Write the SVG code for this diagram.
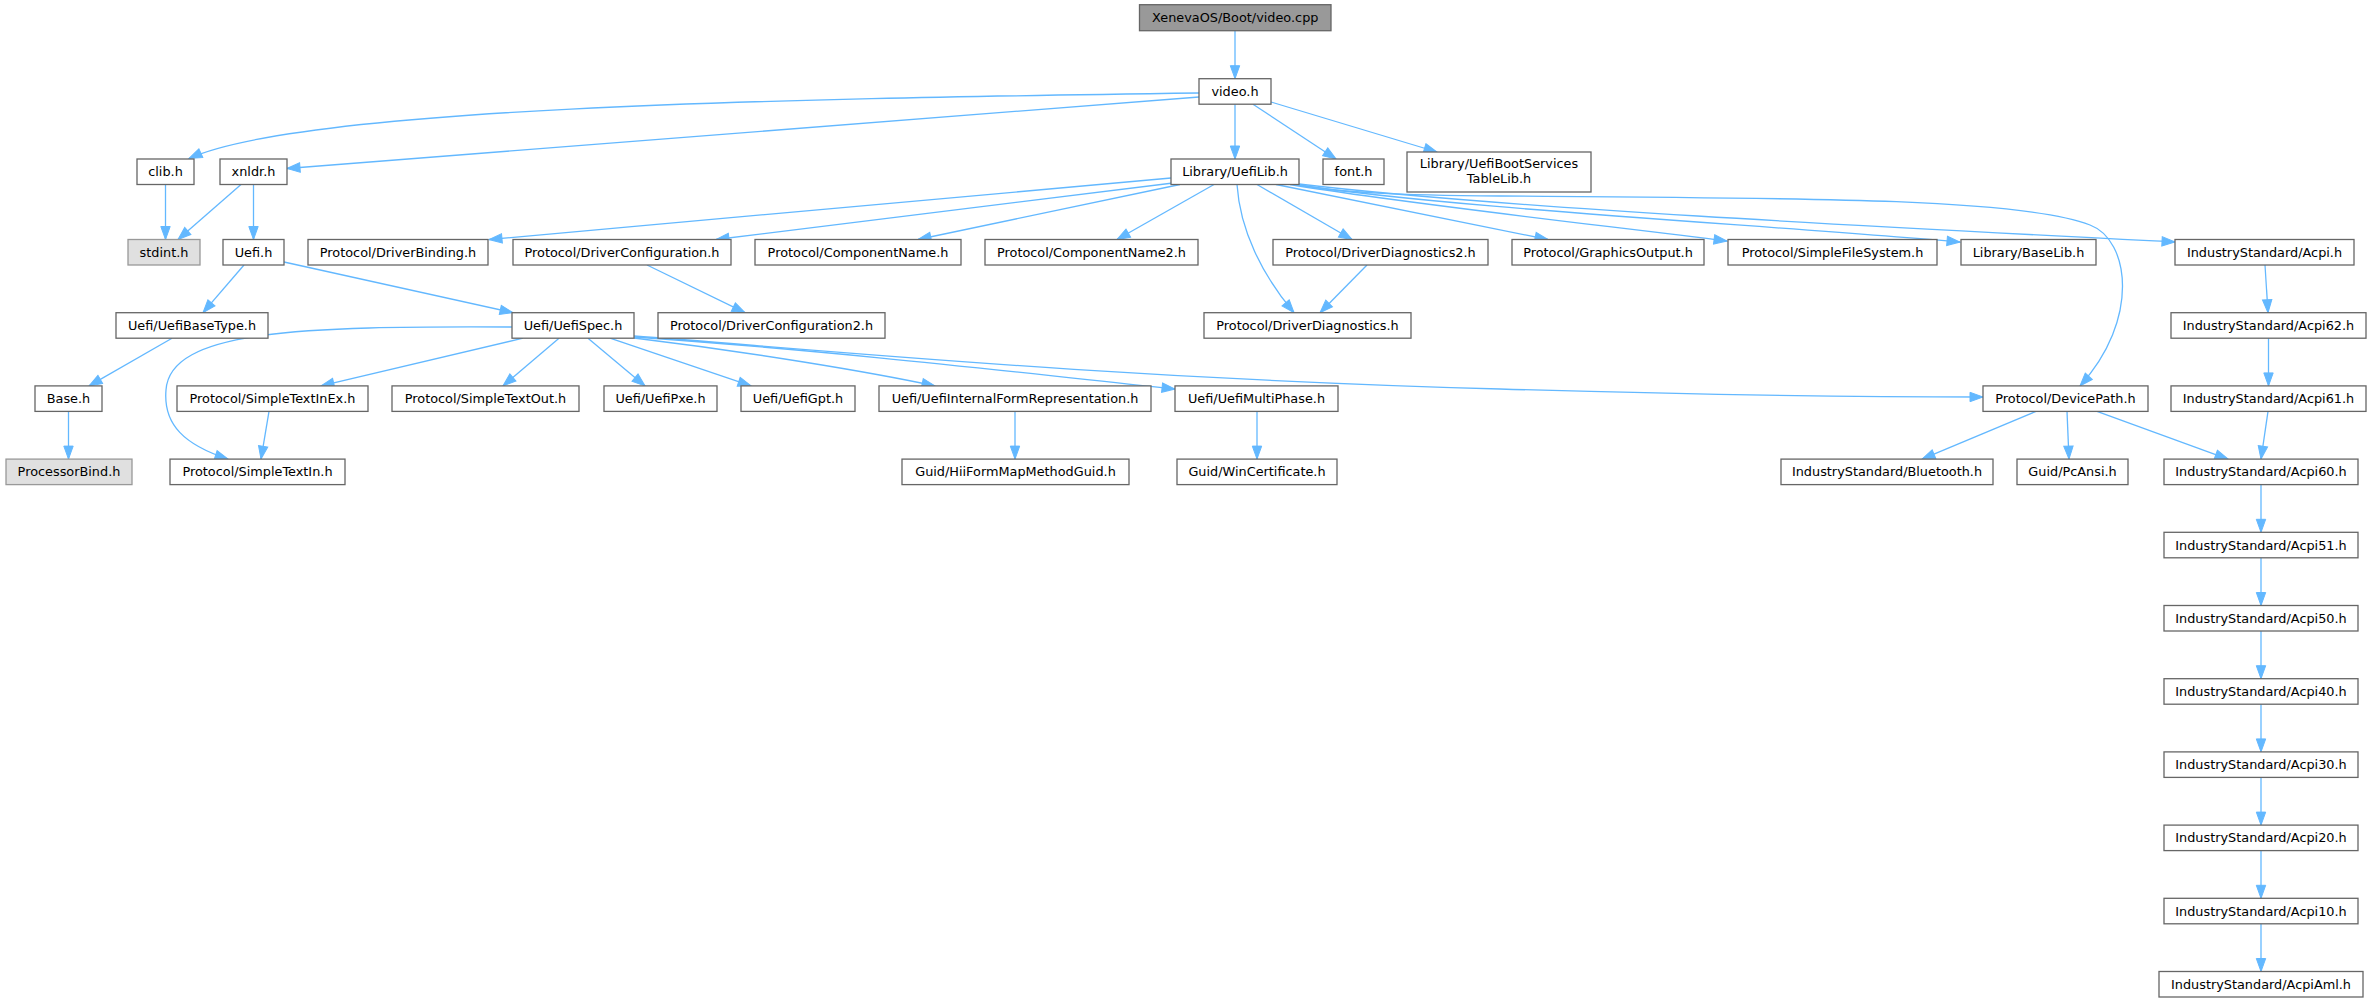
<svg xmlns="http://www.w3.org/2000/svg" width="2371" height="1004" viewBox="0 0 2371 1004">
<defs>
<style>
.n rect{fill:#ffffff;stroke:#666666;stroke-width:1.3}
.n.g rect{fill:#e0e0e0;stroke:#999999}
.n.root rect{fill:#999999;stroke:#666666}
text{font-family:"DejaVu Sans","Liberation Sans",sans-serif;font-size:12.85px;text-anchor:middle;fill:#000000}
#edges path{fill:none;stroke:#63b8ff;stroke-width:1.3;marker-end:url(#arr)}
</style>
<marker id="arr" markerUnits="userSpaceOnUse" markerWidth="16" markerHeight="12" refX="13" refY="5" orient="auto" overflow="visible">
<path d="M0,0.3 L13,5 L0,9.7 Z" fill="#63b8ff" stroke="#63b8ff" stroke-width="1"/>
</marker>
</defs>
<rect width="2371" height="1004" fill="#ffffff"/>
<g id="edges">
<path d="M1235,30.7 L1235,78.7"/>
<path d="M1199,93 C760,99 300,108 189,158.5"/>
<path d="M1199,97 C850,123 550,148 287,168.5"/>
<path d="M1235,104.2 L1235,159"/>
<path d="M1253,104.2 L1336,159"/>
<path d="M1271,102 L1437,152"/>
<path d="M165.5,184.5 L165.5,239.5"/>
<path d="M241,184.5 L178,239.5"/>
<path d="M253.5,184.5 L253.5,239.5"/>
<path d="M1171,178 L489,239.5"/>
<path d="M1173,183 L716,239.5"/>
<path d="M1180,184.5 L918,239.5"/>
<path d="M1214,184.5 L1117,239.5"/>
<path d="M1237,184.5 C1240,230 1262,275 1294,312.7"/>
<path d="M1257,184.5 L1352,239.5"/>
<path d="M1276,184.5 L1548,239.5"/>
<path d="M1290,184.5 C1400,203 1600,225 1727,241"/>
<path d="M1295,184.5 C1450,208 1750,224 1960,242"/>
<path d="M1299,184 C1500,208 1900,228 2175,242"/>
<path d="M1297,184.5 C1340,193 1400,195 1500,196 C1800,198 2020,198 2090,225 C2130,240 2140,320 2080,385.9"/>
<path d="M244,265 L203,312.7"/>
<path d="M284,262 L513,312.7"/>
<path d="M172,338.2 L89,385.9"/>
<path d="M68.5,411.4 L68.5,459.1"/>
<path d="M512,327 C300,326 170,330 166,390 C163,425 185,445 228,459.1"/>
<path d="M523,338.2 L321,385.9"/>
<path d="M559,338.2 L503,385.9"/>
<path d="M588,338.2 L645,385.9"/>
<path d="M610,338.2 L751,385.9"/>
<path d="M634,338 C750,352 870,372 935,385.9"/>
<path d="M634,337 C850,352 1050,376 1175,389"/>
<path d="M634,336 C800,348 1100,378 1500,389 C1700,395 1850,397 1983,397"/>
<path d="M647,265 L745,312.7"/>
<path d="M1367,265 L1320,312.7"/>
<path d="M269,411.4 L261,459.1"/>
<path d="M1015,411.4 L1015,459.1"/>
<path d="M1257,411.4 L1257,459.1"/>
<path d="M2036,411.4 L1922,459.1"/>
<path d="M2067,411.4 L2069,459.1"/>
<path d="M2097,411.4 L2228,459.1"/>
<path d="M2265,265 L2268,312.7"/>
<path d="M2268.5,338.2 L2268.5,385.9"/>
<path d="M2268,411.4 L2261,459.1"/>
<path d="M2261,484.6 L2261,532.3"/>
<path d="M2261,557.8 L2261,605.5"/>
<path d="M2261,631 L2261,678.7"/>
<path d="M2261,704.2 L2261,751.9"/>
<path d="M2261,777.4 L2261,825.1"/>
<path d="M2261,850.6 L2261,898.3"/>
<path d="M2261,923.8 L2261,971.5"/>
</g>
<g id="node_root" class="n root"><rect x="1139.5" y="4.7" width="191.5" height="26"/><text x="1235.25" y="22.2">XenevaOS/Boot/video.cpp</text></g>
<g id="node_video_h" class="n"><rect x="1199" y="78.7" width="72" height="25.5"/><text x="1235" y="96">video.h</text></g>
<g id="node_clib_h" class="n"><rect x="137" y="159" width="57" height="25.5"/><text x="165.5" y="176.3">clib.h</text></g>
<g id="node_xnldr_h" class="n"><rect x="220" y="159" width="67" height="25.5"/><text x="253.5" y="176.3">xnldr.h</text></g>
<g id="node_UefiLib_h" class="n"><rect x="1171" y="159" width="128" height="25.5"/><text x="1235" y="176.3">Library/UefiLib.h</text></g>
<g id="node_font_h" class="n"><rect x="1323" y="159" width="61" height="25.5"/><text x="1353.5" y="176.3">font.h</text></g>
<g id="node_UefiBootServicesTableLib_h" class="n"><rect x="1407" y="152" width="184" height="40"/><text x="1499" y="168">Library/UefiBootServices</text><text x="1499" y="183">TableLib.h</text></g>
<g id="node_stdint_h" class="n g"><rect x="128" y="239.5" width="72" height="25.5"/><text x="164" y="256.8">stdint.h</text></g>
<g id="node_Uefi_h" class="n"><rect x="223" y="239.5" width="61" height="25.5"/><text x="253.5" y="256.8">Uefi.h</text></g>
<g id="node_DriverBinding_h" class="n"><rect x="308" y="239.5" width="180" height="25.5"/><text x="398" y="256.8">Protocol/DriverBinding.h</text></g>
<g id="node_DriverConfiguration_h" class="n"><rect x="513" y="239.5" width="218" height="25.5"/><text x="622" y="256.8">Protocol/DriverConfiguration.h</text></g>
<g id="node_ComponentName_h" class="n"><rect x="755" y="239.5" width="206" height="25.5"/><text x="858" y="256.8">Protocol/ComponentName.h</text></g>
<g id="node_ComponentName2_h" class="n"><rect x="985" y="239.5" width="213" height="25.5"/><text x="1091.5" y="256.8">Protocol/ComponentName2.h</text></g>
<g id="node_DriverDiagnostics2_h" class="n"><rect x="1273" y="239.5" width="215" height="25.5"/><text x="1380.5" y="256.8">Protocol/DriverDiagnostics2.h</text></g>
<g id="node_GraphicsOutput_h" class="n"><rect x="1512" y="239.5" width="192" height="25.5"/><text x="1608" y="256.8">Protocol/GraphicsOutput.h</text></g>
<g id="node_SimpleFileSystem_h" class="n"><rect x="1728" y="239.5" width="209" height="25.5"/><text x="1832.5" y="256.8">Protocol/SimpleFileSystem.h</text></g>
<g id="node_BaseLib_h" class="n"><rect x="1961" y="239.5" width="135" height="25.5"/><text x="2028.5" y="256.8">Library/BaseLib.h</text></g>
<g id="node_Acpi_h" class="n"><rect x="2175" y="239.5" width="179" height="25.5"/><text x="2264.5" y="256.8">IndustryStandard/Acpi.h</text></g>
<g id="node_UefiBaseType_h" class="n"><rect x="116" y="312.7" width="152" height="25.5"/><text x="192" y="330">Uefi/UefiBaseType.h</text></g>
<g id="node_UefiSpec_h" class="n"><rect x="512" y="312.7" width="122" height="25.5"/><text x="573" y="330">Uefi/UefiSpec.h</text></g>
<g id="node_DriverConfiguration2_h" class="n"><rect x="658" y="312.7" width="227" height="25.5"/><text x="771.5" y="330">Protocol/DriverConfiguration2.h</text></g>
<g id="node_DriverDiagnostics_h" class="n"><rect x="1204" y="312.7" width="207" height="25.5"/><text x="1307.5" y="330">Protocol/DriverDiagnostics.h</text></g>
<g id="node_Acpi62_h" class="n"><rect x="2171" y="312.7" width="195" height="25.5"/><text x="2268.5" y="330">IndustryStandard/Acpi62.h</text></g>
<g id="node_Base_h" class="n"><rect x="35" y="385.9" width="67" height="25.5"/><text x="68.5" y="403.2">Base.h</text></g>
<g id="node_SimpleTextInEx_h" class="n"><rect x="177" y="385.9" width="191" height="25.5"/><text x="272.5" y="403.2">Protocol/SimpleTextInEx.h</text></g>
<g id="node_SimpleTextOut_h" class="n"><rect x="392" y="385.9" width="187" height="25.5"/><text x="485.5" y="403.2">Protocol/SimpleTextOut.h</text></g>
<g id="node_UefiPxe_h" class="n"><rect x="604" y="385.9" width="113" height="25.5"/><text x="660.5" y="403.2">Uefi/UefiPxe.h</text></g>
<g id="node_UefiGpt_h" class="n"><rect x="741" y="385.9" width="114" height="25.5"/><text x="798" y="403.2">Uefi/UefiGpt.h</text></g>
<g id="node_UefiInternalFormRepresentation_h" class="n"><rect x="879" y="385.9" width="272" height="25.5"/><text x="1015" y="403.2">Uefi/UefiInternalFormRepresentation.h</text></g>
<g id="node_UefiMultiPhase_h" class="n"><rect x="1175" y="385.9" width="163" height="25.5"/><text x="1256.5" y="403.2">Uefi/UefiMultiPhase.h</text></g>
<g id="node_DevicePath_h" class="n"><rect x="1983" y="385.9" width="165" height="25.5"/><text x="2065.5" y="403.2">Protocol/DevicePath.h</text></g>
<g id="node_Acpi61_h" class="n"><rect x="2171" y="385.9" width="195" height="25.5"/><text x="2268.5" y="403.2">IndustryStandard/Acpi61.h</text></g>
<g id="node_ProcessorBind_h" class="n g"><rect x="6" y="459.1" width="126" height="25.5"/><text x="69" y="476.4">ProcessorBind.h</text></g>
<g id="node_SimpleTextIn_h" class="n"><rect x="170" y="459.1" width="175" height="25.5"/><text x="257.5" y="476.4">Protocol/SimpleTextIn.h</text></g>
<g id="node_HiiFormMapMethodGuid_h" class="n"><rect x="902" y="459.1" width="227" height="25.5"/><text x="1015.5" y="476.4">Guid/HiiFormMapMethodGuid.h</text></g>
<g id="node_WinCertificate_h" class="n"><rect x="1177" y="459.1" width="160" height="25.5"/><text x="1257" y="476.4">Guid/WinCertificate.h</text></g>
<g id="node_Bluetooth_h" class="n"><rect x="1781" y="459.1" width="212" height="25.5"/><text x="1887" y="476.4">IndustryStandard/Bluetooth.h</text></g>
<g id="node_PcAnsi_h" class="n"><rect x="2017" y="459.1" width="111" height="25.5"/><text x="2072.5" y="476.4">Guid/PcAnsi.h</text></g>
<g id="node_Acpi60_h" class="n"><rect x="2164" y="459.1" width="194" height="25.5"/><text x="2261" y="476.4">IndustryStandard/Acpi60.h</text></g>
<g id="node_Acpi51_h" class="n"><rect x="2164" y="532.3" width="194" height="25.5"/><text x="2261" y="549.6">IndustryStandard/Acpi51.h</text></g>
<g id="node_Acpi50_h" class="n"><rect x="2164" y="605.5" width="194" height="25.5"/><text x="2261" y="622.8">IndustryStandard/Acpi50.h</text></g>
<g id="node_Acpi40_h" class="n"><rect x="2164" y="678.7" width="194" height="25.5"/><text x="2261" y="696">IndustryStandard/Acpi40.h</text></g>
<g id="node_Acpi30_h" class="n"><rect x="2164" y="751.9" width="194" height="25.5"/><text x="2261" y="769.2">IndustryStandard/Acpi30.h</text></g>
<g id="node_Acpi20_h" class="n"><rect x="2164" y="825.1" width="194" height="25.5"/><text x="2261" y="842.4">IndustryStandard/Acpi20.h</text></g>
<g id="node_Acpi10_h" class="n"><rect x="2164" y="898.3" width="194" height="25.5"/><text x="2261" y="915.6">IndustryStandard/Acpi10.h</text></g>
<g id="node_AcpiAml_h" class="n"><rect x="2159" y="971.5" width="204" height="25.5"/><text x="2261" y="988.8">IndustryStandard/AcpiAml.h</text></g>
</svg>
